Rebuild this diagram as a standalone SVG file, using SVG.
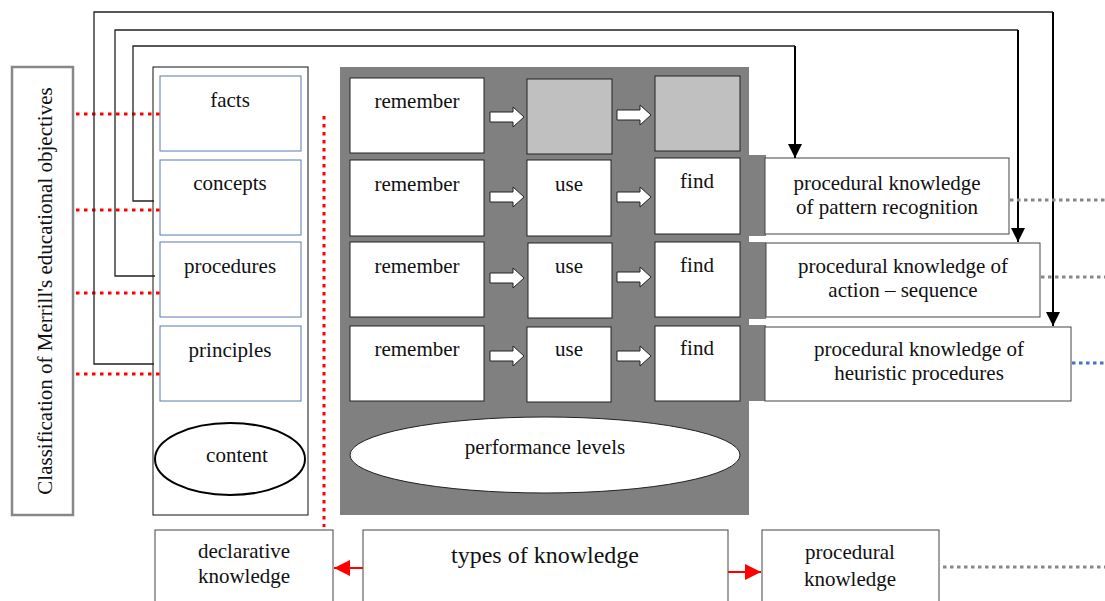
<svg xmlns="http://www.w3.org/2000/svg" width="1105" height="601" viewBox="0 0 1105 601">
<style>
text{font-family:"Liberation Serif","Times New Roman",serif;font-size:21px;fill:#111;text-anchor:middle}
.ib{fill:#fff;stroke:#5a7ab2;stroke-width:1}
.wb{fill:#fff;stroke:#222;stroke-width:1}
.gb{fill:#c0c0c0;stroke:#222;stroke-width:1}
.pb{fill:#fff;stroke:#444;stroke-width:1}
.rd{fill:none;stroke:#f00;stroke-width:3;stroke-dasharray:3.5 4.5}
.gd{fill:none;stroke:#888;stroke-width:3;stroke-dasharray:3.5 3.5}
.bd{fill:none;stroke:#4472c4;stroke-width:3;stroke-dasharray:3.5 3.5}
.br{fill:none;stroke:#222;stroke-width:1.3}
.bra{fill:none;stroke:#000;stroke-width:2}
.ba{fill:#fff;stroke:#222;stroke-width:1}
</style>
<defs>
<marker id="ah" viewBox="0 0 10 10" refX="10" refY="5" markerWidth="7.5" markerHeight="7" markerUnits="strokeWidth" orient="auto"><path d="M0,0 L10,5 L0,10 z" fill="#000"/></marker>
<marker id="rh" viewBox="0 0 10 10" refX="10" refY="5" markerWidth="8" markerHeight="8" markerUnits="strokeWidth" orient="auto"><path d="M0,0 L10,5 L0,10 z" fill="#f00"/></marker>
<path id="blk" d="M0,-5 H23 V-10 L34,0 L23,10 V5 H0 Z"/>
</defs>

<g id="classification">
<rect x="12" y="67" width="61" height="448" fill="#fff" stroke="#888" stroke-width="2.5"/>
<text transform="translate(52,291) rotate(-90)">Classification of Merrill's educational objectives</text>
</g>

<g id="content-panel">
<rect x="153" y="67" width="155" height="448" fill="#fff" stroke="#111" stroke-width="1"/>
</g>
<g id="facts"><rect class="ib" x="160" y="76" width="141" height="75"/><text x="230" y="107">facts</text></g>
<g id="concepts"><rect class="ib" x="160" y="160" width="141" height="75"/><text x="230" y="190">concepts</text></g>
<g id="procedures"><rect class="ib" x="160" y="242" width="141" height="75"/><text x="230" y="273">procedures</text></g>
<g id="principles"><rect class="ib" x="160" y="326" width="141" height="75"/><text x="230" y="357">principles</text></g>
<g id="content"><ellipse cx="230" cy="459" rx="75" ry="36" fill="#fff" stroke="#000" stroke-width="2"/><text x="237" y="462">content</text></g>

<g id="performance-panel">
<rect x="340" y="67" width="409" height="448" fill="#808080"/>
<rect x="749" y="155" width="17" height="246" fill="#808080"/>
<rect x="749" y="236" width="17" height="6" fill="#fff"/>
<rect x="749" y="319" width="17" height="6" fill="#fff"/>
</g>
<g id="r1-remember"><rect class="wb" x="350" y="78" width="134" height="75"/><text x="417" y="108">remember</text></g>
<g id="r1-blank1"><rect class="gb" x="527" y="79" width="85" height="75"/></g>
<g id="r1-blank2"><rect class="gb" x="655" y="76" width="85" height="75"/></g>
<g id="r2-remember"><rect class="wb" x="350" y="160" width="134" height="76"/><text x="417" y="191">remember</text></g>
<g id="r2-use"><rect class="wb" x="527" y="160" width="84" height="76"/><text x="569" y="191">use</text></g>
<g id="r2-find"><rect class="wb" x="655" y="158" width="85" height="76"/><text x="697" y="188">find</text></g>
<g id="r3-remember"><rect class="wb" x="350" y="242" width="134" height="75"/><text x="417" y="273">remember</text></g>
<g id="r3-use"><rect class="wb" x="528" y="243" width="84" height="75"/><text x="569" y="273">use</text></g>
<g id="r3-find"><rect class="wb" x="655" y="242" width="85" height="75"/><text x="697" y="272">find</text></g>
<g id="r4-remember"><rect class="wb" x="350" y="326" width="134" height="75"/><text x="417" y="356">remember</text></g>
<g id="r4-use"><rect class="wb" x="527" y="327" width="84" height="75"/><text x="569" y="356">use</text></g>
<g id="r4-find"><rect class="wb" x="655" y="326" width="85" height="75"/><text x="697" y="355">find</text></g>
<g id="performance-levels"><ellipse cx="545" cy="455" rx="195" ry="38" fill="#fff" stroke="#222" stroke-width="1"/><text x="545" y="454">performance levels</text></g>

<g id="pk-pattern"><rect class="pb" x="765" y="158" width="244" height="76"/><text x="887" y="190">procedural knowledge</text><text x="887" y="214">of pattern recognition</text></g>
<g id="pk-action"><rect class="pb" x="766" y="243" width="274" height="74"/><text x="903" y="273">procedural knowledge of</text><text x="903" y="297">action – sequence</text></g>
<g id="pk-heuristic"><rect class="pb" x="765" y="327" width="306" height="74"/><text x="919" y="356">procedural knowledge of</text><text x="919" y="380">heuristic procedures</text></g>

<g id="declarative"><rect class="pb" x="155" y="530" width="178" height="80"/><text x="244" y="558">declarative</text><text x="244" y="583">knowledge</text></g>
<g id="types"><rect class="pb" x="363" y="530" width="365" height="80"/><text x="545" y="563" style="font-size:24px">types of knowledge</text></g>
<g id="procedural"><rect class="pb" x="762" y="530" width="177" height="80"/><text x="850" y="559">procedural</text><text x="850" y="586">knowledge</text></g>

<g id="connectors">
<path class="rd" d="M76,114 H160 M76,210 H160 M76,293 H160 M76,374 H160"/>
<path class="rd" d="M324,116 V527"/>
<path class="br" d="M154,364 H94 V12 H1053"/>
<path class="br" d="M155,276 H115 V30 H1018"/>
<path class="br" d="M154,201 H133 V46 H795"/>
<path class="bra" d="M1053,12 V326" marker-end="url(#ah)"/>
<path class="bra" d="M1018,30 V242" marker-end="url(#ah)"/>
<path class="bra" d="M795,46 V158" marker-end="url(#ah)"/>
<use href="#blk" class="ba" x="490" y="117"/>
<use href="#blk" class="ba" x="617" y="115"/>
<use href="#blk" class="ba" x="490" y="197"/>
<use href="#blk" class="ba" x="617" y="197"/>
<use href="#blk" class="ba" x="490" y="278"/>
<use href="#blk" class="ba" x="617" y="277"/>
<use href="#blk" class="ba" x="490" y="356"/>
<use href="#blk" class="ba" x="617" y="356"/>
<path class="gd" d="M1010,200 H1105"/>
<path class="gd" d="M1041,277 H1105"/>
<path class="bd" d="M1072,363 H1105"/>
<path class="gd" d="M943,567 H1105"/>
<path d="M363,568 H334" stroke="#f00" stroke-width="2" marker-end="url(#rh)"/>
<path d="M728,572 H761" stroke="#f00" stroke-width="2" marker-end="url(#rh)"/>
</g>
</svg>
